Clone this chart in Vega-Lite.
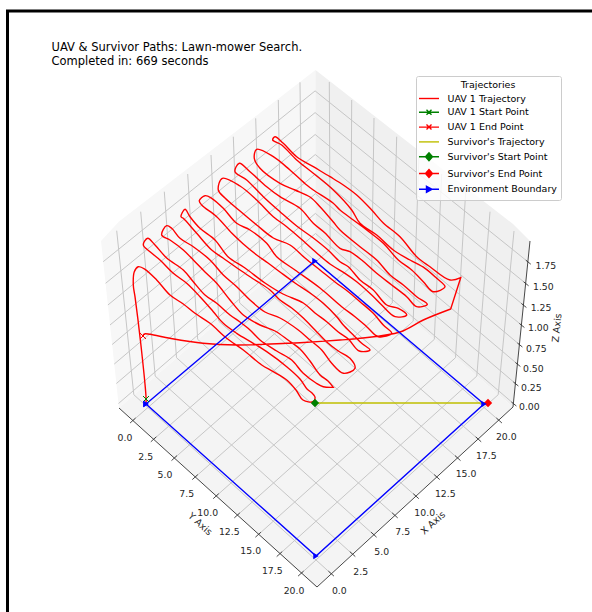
{"$schema":"https://vega.github.io/schema/vega-lite/v6.json","width":592,"height":612,"padding":0,"autosize":{"type":"none"},"background":"white","config":{"view":{"stroke":null},"text":{"font":"DejaVu Sans"}},
"datasets":{
"panes":[{"pane":"left","px":101,"py":241,"py2":241},{"pane":"left","px":119,"py":221.6,"py2":408},{"pane":"left","px":315.5,"py":70,"py2":237},
{"pane":"right","px":315.5,"py":70,"py2":237},{"pane":"right","px":513,"py":224,"py2":407},{"pane":"right","px":530,"py":241,"py2":241},
{"pane":"floor","px":119,"py":408,"py2":408},{"pane":"floor","px":316,"py":237,"py2":587},{"pane":"floor","px":513,"py":407,"py2":407}],
"grid":[
{"g":"fx0","i":0,"px":330.9,"py":573.5},{"g":"fx0","i":1,"px":133.8,"py":394.7},{"g":"fx1","i":0,"px":352.3,"py":554},{"g":"fx1","i":1,"px":155.2,"py":376.1},{"g":"fx2","i":0,"px":373.6,"py":534.6},{"g":"fx2","i":1,"px":176.5,"py":357.7},{"g":"fx3","i":0,"px":394.7,"py":515.3},{"g":"fx3","i":1,"px":197.7,"py":339.4},{"g":"fx4","i":0,"px":415.8,"py":496.1},{"g":"fx4","i":1,"px":218.8,"py":321.2},{"g":"fx5","i":0,"px":436.7,"py":477},{"g":"fx5","i":1,"px":239.7,"py":303},{"g":"fx6","i":0,"px":457.5,"py":458},{"g":"fx6","i":1,"px":260.5,"py":285},{"g":"fx7","i":0,"px":478.2,"py":439.2},{"g":"fx7","i":1,"px":281.2,"py":267.1},{"g":"fx8","i":0,"px":498.9,"py":420.4},{"g":"fx8","i":1,"px":301.8,"py":249.2},
{"g":"fy0","i":0,"px":133.1,"py":420.4},{"g":"fy0","i":1,"px":330.2,"py":249.2},{"g":"fy1","i":0,"px":153.8,"py":439.2},{"g":"fy1","i":1,"px":350.8,"py":267.1},{"g":"fy2","i":0,"px":174.5,"py":458},{"g":"fy2","i":1,"px":371.5,"py":285},{"g":"fy3","i":0,"px":195.3,"py":477},{"g":"fy3","i":1,"px":392.3,"py":303},{"g":"fy4","i":0,"px":216.2,"py":496.1},{"g":"fy4","i":1,"px":413.2,"py":321.2},{"g":"fy5","i":0,"px":237.3,"py":515.3},{"g":"fy5","i":1,"px":434.3,"py":339.4},{"g":"fy6","i":0,"px":258.4,"py":534.6},{"g":"fy6","i":1,"px":455.5,"py":357.7},{"g":"fy7","i":0,"px":279.7,"py":554},{"g":"fy7","i":1,"px":476.8,"py":376.1},{"g":"fy8","i":0,"px":301.1,"py":573.5},{"g":"fy8","i":1,"px":498.2,"py":394.7},
{"g":"lv0","i":0,"px":133.8,"py":394.7},{"g":"lv0","i":1,"px":116.7,"py":230.7},{"g":"lv1","i":0,"px":155.2,"py":376.1},{"g":"lv1","i":1,"px":140.7,"py":211.7},{"g":"lv2","i":0,"px":176.5,"py":357.7},{"g":"lv2","i":1,"px":164.3,"py":191.7},{"g":"lv3","i":0,"px":197.7,"py":339.4},{"g":"lv3","i":1,"px":187.7,"py":174},{"g":"lv4","i":0,"px":218.8,"py":321.2},{"g":"lv4","i":1,"px":211,"py":155},{"g":"lv5","i":0,"px":239.7,"py":303},{"g":"lv5","i":1,"px":233.3,"py":136.7},{"g":"lv6","i":0,"px":260.5,"py":285},{"g":"lv6","i":1,"px":255.7,"py":118.3},{"g":"lv7","i":0,"px":281.2,"py":267.1},{"g":"lv7","i":1,"px":278.3,"py":100},{"g":"lv8","i":0,"px":301.8,"py":249.2},{"g":"lv8","i":1,"px":300,"py":82.3},
{"g":"rv0","i":0,"px":330.2,"py":249.2},{"g":"rv0","i":1,"px":329.3,"py":82},{"g":"rv1","i":0,"px":350.8,"py":267.1},{"g":"rv1","i":1,"px":351.7,"py":100},{"g":"rv2","i":0,"px":371.5,"py":285},{"g":"rv2","i":1,"px":374,"py":118},{"g":"rv3","i":0,"px":392.3,"py":303},{"g":"rv3","i":1,"px":396.7,"py":136.7},{"g":"rv4","i":0,"px":413.2,"py":321.2},{"g":"rv4","i":1,"px":419,"py":155},{"g":"rv5","i":0,"px":434.3,"py":339.4},{"g":"rv5","i":1,"px":441.7,"py":174},{"g":"rv6","i":0,"px":455.5,"py":357.7},{"g":"rv6","i":1,"px":465.7,"py":192},{"g":"rv7","i":0,"px":476.8,"py":376.1},{"g":"rv7","i":1,"px":490,"py":211.7},{"g":"rv8","i":0,"px":498.2,"py":394.7},{"g":"rv8","i":1,"px":514,"py":231},
{"g":"z0","i":0,"px":118.5,"py":403.5},{"g":"z0","i":1,"px":315.5,"py":233.5},{"g":"z0","i":2,"px":513.4,"py":403.5},{"g":"z1","i":0,"px":116.4,"py":383.5},{"g":"z1","i":1,"px":315.4,"py":213.4},{"g":"z1","i":2,"px":515.4,"py":383.5},{"g":"z2","i":0,"px":114.3,"py":364},{"g":"z2","i":1,"px":315.4,"py":193.7},{"g":"z2","i":2,"px":517.4,"py":364},{"g":"z3","i":0,"px":112.2,"py":344.5},{"g":"z3","i":1,"px":315.3,"py":174},{"g":"z3","i":2,"px":519.4,"py":344.5},{"g":"z4","i":0,"px":110,"py":325},{"g":"z4","i":1,"px":315.3,"py":154.5},{"g":"z4","i":2,"px":521.4,"py":325},{"g":"z5","i":0,"px":107.9,"py":305},{"g":"z5","i":1,"px":315.2,"py":134.5},{"g":"z5","i":2,"px":523.4,"py":305},{"g":"z6","i":0,"px":105.6,"py":283.3},{"g":"z6","i":1,"px":315.1,"py":112.6},{"g":"z6","i":2,"px":525.6,"py":283.3},{"g":"z7","i":0,"px":103.2,"py":261.7},{"g":"z7","i":1,"px":315.1,"py":90.9},{"g":"z7","i":2,"px":527.8,"py":261.7}],
"axes":[
{"g":"yaxis","i":0,"px":119,"py":408},{"g":"yaxis","i":1,"px":317,"py":587},{"g":"xaxis","i":0,"px":317,"py":587},{"g":"xaxis","i":1,"px":513,"py":407},{"g":"zaxis","i":0,"px":513,"py":407},{"g":"zaxis","i":1,"px":530,"py":241},
{"g":"ty0","i":0,"px":135.6,"py":418},{"g":"ty0","i":1,"px":130.1,"py":423},{"g":"ty1","i":0,"px":156.3,"py":436.8},{"g":"ty1","i":1,"px":150.8,"py":441.8},{"g":"ty2","i":0,"px":177,"py":455.6},{"g":"ty2","i":1,"px":171.5,"py":460.6},{"g":"ty3","i":0,"px":197.8,"py":474.6},{"g":"ty3","i":1,"px":192.3,"py":479.6},{"g":"ty4","i":0,"px":218.7,"py":493.7},{"g":"ty4","i":1,"px":213.2,"py":498.7},{"g":"ty5","i":0,"px":239.8,"py":512.9},{"g":"ty5","i":1,"px":234.3,"py":517.9},{"g":"ty6","i":0,"px":260.9,"py":532.2},{"g":"ty6","i":1,"px":255.4,"py":537.2},{"g":"ty7","i":0,"px":282.2,"py":551.6},{"g":"ty7","i":1,"px":276.7,"py":556.6},{"g":"ty8","i":0,"px":303.6,"py":571.1},{"g":"ty8","i":1,"px":298.1,"py":576.1},
{"g":"tx0","i":0,"px":328.4,"py":571.1},{"g":"tx0","i":1,"px":333.9,"py":576.1},{"g":"tx1","i":0,"px":349.8,"py":551.6},{"g":"tx1","i":1,"px":355.3,"py":556.6},{"g":"tx2","i":0,"px":371.1,"py":532.2},{"g":"tx2","i":1,"px":376.6,"py":537.2},{"g":"tx3","i":0,"px":392.2,"py":512.9},{"g":"tx3","i":1,"px":397.7,"py":517.9},{"g":"tx4","i":0,"px":413.3,"py":493.7},{"g":"tx4","i":1,"px":418.8,"py":498.7},{"g":"tx5","i":0,"px":434.2,"py":474.6},{"g":"tx5","i":1,"px":439.7,"py":479.6},{"g":"tx6","i":0,"px":455,"py":455.6},{"g":"tx6","i":1,"px":460.5,"py":460.6},{"g":"tx7","i":0,"px":475.7,"py":436.8},{"g":"tx7","i":1,"px":481.2,"py":441.8},{"g":"tx8","i":0,"px":496.4,"py":418},{"g":"tx8","i":1,"px":501.9,"py":423},
{"g":"tz0","i":0,"px":511.4,"py":402},{"g":"tz0","i":1,"px":516.4,"py":406},{"g":"tz1","i":0,"px":513.4,"py":382},{"g":"tz1","i":1,"px":518.4,"py":386},{"g":"tz2","i":0,"px":515.4,"py":362.5},{"g":"tz2","i":1,"px":520.4,"py":366.5},{"g":"tz3","i":0,"px":517.4,"py":343},{"g":"tz3","i":1,"px":522.4,"py":347},{"g":"tz4","i":0,"px":519.4,"py":323.5},{"g":"tz4","i":1,"px":524.4,"py":327.5},{"g":"tz5","i":0,"px":521.4,"py":303.5},{"g":"tz5","i":1,"px":526.4,"py":307.5},{"g":"tz6","i":0,"px":523.6,"py":281.8},{"g":"tz6","i":1,"px":528.6,"py":285.8},{"g":"tz7","i":0,"px":525.8,"py":260.2},{"g":"tz7","i":1,"px":530.8,"py":264.2}],
"ticklabels":[
{"t":"0.0","px":125,"py":438.3},{"t":"2.5","px":145.7,"py":456.7},{"t":"5.0","px":165,"py":475.3},{"t":"7.5","px":186.7,"py":494},{"t":"10.0","px":207.7,"py":513.3},{"t":"12.5","px":229.3,"py":532},{"t":"15.0","px":250.7,"py":551.3},{"t":"17.5","px":272.3,"py":570.7},{"t":"20.0","px":294,"py":591},
{"t":"0.0","px":339.3,"py":590.7},{"t":"2.5","px":360.7,"py":571.7},{"t":"5.0","px":381.7,"py":551.7},{"t":"7.5","px":402.7,"py":532},{"t":"10.0","px":424.7,"py":512.7},{"t":"12.5","px":445.3,"py":494},{"t":"15.0","px":466,"py":474.3},{"t":"17.5","px":486.3,"py":455.7},{"t":"20.0","px":506.3,"py":437.3}],
"zlabels":[{"t":"0.00","px":519,"py":406.7},{"t":"0.25","px":521,"py":387.5},{"t":"0.50","px":523,"py":368.5},{"t":"0.75","px":526,"py":349},{"t":"1.00","px":528,"py":328},{"t":"1.25","px":530.7,"py":308},{"t":"1.50","px":533,"py":287},{"t":"1.75","px":535.5,"py":266}],
"titles":[{"t":"UAV & Survivor Paths: Lawn-mower Search.","px":51.5,"py":51},{"t":"Completed in: 669 seconds","px":51.5,"py":65}],
"frame":[{"i":0,"px":7.5,"py":612},{"i":1,"px":7.5,"py":11},{"i":2,"px":592,"py":11}],
"boundary":[{"i":0,"px":146,"py":404},{"i":1,"px":316,"py":556},{"i":2,"px":484,"py":404},{"i":3,"px":315,"py":261},{"i":4,"px":146,"py":404}],
"survivor":[{"i":0,"px":315,"py":403},{"i":1,"px":488,"py":403}],
"legendrows":[{"series":"UAV 1 Trajectory","px":300,"py":300},{"series":"UAV 1 Start Point","px":300,"py":300},{"series":"UAV 1 End Point","px":300,"py":300},{"series":"Survivor's Trajectory","px":300,"py":300},{"series":"Survivor's Start Point","px":300,"py":300},{"series":"Survivor's End Point","px":300,"py":300},{"series":"Environment Boundary","px":300,"py":300}],
"uav":[
{"i":1,"px":146,"py":404},{"i":2,"px":146,"py":396.7},{"i":3,"px":140.7,"py":343},{"i":4,"px":135,"py":296.7},{"i":5,"px":133.3,"py":285},{"i":6,"px":134.3,"py":271.7},{"i":7,"px":138.3,"py":266.7},{"i":8,"px":145,"py":269.3},{"i":9,"px":156.7,"py":280},{"i":10,"px":170,"py":295},{"i":11,"px":183.3,"py":304},{"i":12,"px":195,"py":313.3},{"i":13,"px":210,"py":323.3},{"i":14,"px":226.7,"py":338.3},{"i":15,"px":243.3,"py":350},{"i":16,"px":261.7,"py":365},{"i":17,"px":273.3,"py":371.7},{"i":18,"px":286.7,"py":380},{"i":19,"px":296,"py":390},{"i":20,"px":303,"py":400},{"i":21,"px":313,"py":401.7},{"i":22,"px":315,"py":397},
{"i":23,"px":312,"py":393},{"i":24,"px":307,"py":389},{"i":25,"px":300,"py":379},{"i":26,"px":286.7,"py":366.7},{"i":27,"px":266.7,"py":351.7},{"i":28,"px":253.3,"py":343.3},{"i":29,"px":236.7,"py":333.3},{"i":30,"px":223.3,"py":323.3},{"i":31,"px":213.3,"py":311.7},{"i":32,"px":200,"py":296.7},{"i":33,"px":186.7,"py":283.3},{"i":34,"px":173.3,"py":273.3},{"i":35,"px":160,"py":260},{"i":36,"px":150,"py":251.7},{"i":37,"px":143.3,"py":245},{"i":38,"px":147.7,"py":238.3},
{"i":39,"px":155,"py":245},{"i":40,"px":166.7,"py":258},{"i":41,"px":183.3,"py":270},{"i":42,"px":193.3,"py":281.7},{"i":43,"px":205,"py":295},{"i":44,"px":216.7,"py":303.3},{"i":45,"px":230,"py":315},{"i":46,"px":240,"py":322},{"i":47,"px":250,"py":330},{"i":48,"px":260,"py":340},{"i":49,"px":276.7,"py":351},{"i":50,"px":291.7,"py":360},{"i":51,"px":303,"py":373},{"i":52,"px":316,"py":383},{"i":53,"px":323.3,"py":386.7},{"i":54,"px":333.3,"py":387.3},{"i":54.1,"px":333.3,"py":387.3},
{"i":55,"px":328,"py":381},{"i":56,"px":320,"py":375},{"i":57,"px":310,"py":361},{"i":58,"px":300,"py":349},{"i":59,"px":288,"py":340},{"i":60,"px":275,"py":331},{"i":61,"px":260,"py":325},{"i":62,"px":243.3,"py":315},{"i":63,"px":230,"py":300},{"i":64,"px":216.7,"py":283.3},{"i":65,"px":205,"py":272},{"i":66,"px":193.3,"py":260},{"i":67,"px":183.3,"py":250},{"i":68,"px":170,"py":240},{"i":69,"px":161.7,"py":235},{"i":70,"px":166.7,"py":225.7},
{"i":71,"px":171.7,"py":228.3},{"i":72,"px":180,"py":238.3},{"i":73,"px":193.3,"py":246.7},{"i":74,"px":210,"py":260},{"i":75,"px":223.3,"py":275},{"i":76,"px":236.7,"py":286.7},{"i":77,"px":250,"py":300},{"i":78,"px":265,"py":312},{"i":79,"px":280,"py":318},{"i":80,"px":298.3,"py":330},{"i":81,"px":310,"py":340},{"i":82,"px":321.7,"py":350},{"i":83,"px":331.7,"py":363.3},{"i":84,"px":343.3,"py":373.3},{"i":85,"px":355,"py":368.3},
{"i":86,"px":350,"py":358.3},{"i":87,"px":338.3,"py":351},{"i":88,"px":326.7,"py":342},{"i":89,"px":315,"py":330},{"i":90,"px":303.3,"py":318},{"i":91,"px":291.7,"py":308},{"i":92,"px":280,"py":300},{"i":93,"px":270,"py":290},{"i":94,"px":255,"py":280},{"i":95,"px":240,"py":270},{"i":96,"px":223,"py":258},{"i":97,"px":211.7,"py":250},{"i":98,"px":196.7,"py":233.3},{"i":99,"px":183.3,"py":218.3},{"i":100,"px":181,"py":216.7},{"i":101,"px":185,"py":209.3},
{"i":102,"px":190,"py":216.7},{"i":103,"px":200,"py":228.3},{"i":104,"px":215,"py":240},{"i":105,"px":228,"py":256.7},{"i":106,"px":245,"py":268},{"i":107,"px":265,"py":283},{"i":108,"px":283,"py":294},{"i":109,"px":303.3,"py":303},{"i":110,"px":315,"py":313},{"i":111,"px":326.7,"py":321.7},{"i":112,"px":338.3,"py":332},{"i":113,"px":348.3,"py":339},{"i":114,"px":359.3,"py":351},{"i":115,"px":370,"py":350},
{"i":116,"px":361.7,"py":343.3},{"i":117,"px":353.3,"py":335},{"i":118,"px":343.3,"py":325},{"i":119,"px":336.7,"py":316.7},{"i":120,"px":323.3,"py":303.3},{"i":121,"px":310,"py":293},{"i":122,"px":295,"py":283},{"i":123,"px":280,"py":272},{"i":124,"px":268,"py":263},{"i":125,"px":256.7,"py":255},{"i":126,"px":243.3,"py":244},{"i":127,"px":231.7,"py":233},{"i":128,"px":216.7,"py":216.7},{"i":129,"px":201.7,"py":205},{"i":130,"px":199.3,"py":200.7},{"i":131,"px":205,"py":195.7},
{"i":132,"px":211.7,"py":198.3},{"i":133,"px":223.3,"py":208.3},{"i":134,"px":236.7,"py":223.3},{"i":135,"px":250,"py":230},{"i":136,"px":266.7,"py":243.3},{"i":137,"px":276.7,"py":256.7},{"i":138,"px":295,"py":270},{"i":139,"px":320,"py":288},{"i":140,"px":341.7,"py":306.7},{"i":141,"px":355,"py":316.7},{"i":142,"px":366.7,"py":326.7},{"i":143,"px":378.3,"py":336.7},{"i":144,"px":391.7,"py":333.3},
{"i":145,"px":383.3,"py":325},{"i":146,"px":373.3,"py":313.3},{"i":147,"px":360,"py":301.7},{"i":148,"px":348.3,"py":291.7},{"i":149,"px":335,"py":282},{"i":150,"px":320,"py":270},{"i":151,"px":305,"py":258},{"i":152,"px":290,"py":245},{"i":153,"px":273.3,"py":238},{"i":154,"px":256.7,"py":225},{"i":155,"px":240,"py":211},{"i":156,"px":225,"py":198},{"i":157,"px":218.3,"py":190},{"i":158,"px":222.3,"py":178.3},
{"i":159,"px":240,"py":186},{"i":160,"px":256.7,"py":200},{"i":161,"px":273.3,"py":216.7},{"i":162,"px":286.7,"py":226.7},{"i":163,"px":300,"py":238},{"i":164,"px":316.7,"py":253},{"i":165,"px":330,"py":264},{"i":166,"px":345,"py":273.3},{"i":167,"px":356.7,"py":281.7},{"i":168,"px":371.7,"py":295},{"i":169,"px":381.7,"py":305},{"i":170,"px":395,"py":316.7},{"i":171,"px":406.7,"py":315},
{"i":172,"px":398.3,"py":308.3},{"i":173,"px":386.7,"py":305},{"i":174,"px":373.3,"py":290},{"i":175,"px":360,"py":280},{"i":176,"px":348.3,"py":266.7},{"i":177,"px":340,"py":261.7},{"i":178,"px":328,"py":250},{"i":179,"px":313.3,"py":238},{"i":180,"px":296.7,"py":226},{"i":181,"px":280,"py":211.7},{"i":182,"px":263.3,"py":196.7},{"i":183,"px":246.7,"py":180},{"i":184,"px":235,"py":171.7},{"i":185,"px":239.3,"py":163.3},
{"i":186,"px":250,"py":171.7},{"i":187,"px":266.7,"py":186.7},{"i":188,"px":280,"py":196.7},{"i":189,"px":300,"py":208.3},{"i":190,"px":313.3,"py":223.3},{"i":191,"px":325,"py":233},{"i":192,"px":340,"py":248.3},{"i":193,"px":350,"py":251.7},{"i":194,"px":361.7,"py":260},{"i":195,"px":376.7,"py":273.3},{"i":196,"px":391.7,"py":285},{"i":197,"px":406.7,"py":296.7},{"i":198,"px":416.7,"py":306.7},{"i":199,"px":427.3,"py":304.3},
{"i":200,"px":416.7,"py":296.7},{"i":201,"px":403.3,"py":285},{"i":202,"px":390,"py":275},{"i":203,"px":376.7,"py":260},{"i":204,"px":360,"py":246.7},{"i":205,"px":340,"py":230},{"i":206,"px":333.3,"py":222},{"i":207,"px":320,"py":206.7},{"i":208,"px":310,"py":197},{"i":209,"px":295,"py":190},{"i":210,"px":280,"py":183.3},{"i":211,"px":260,"py":168.3},{"i":212,"px":254.3,"py":158.3},{"i":213,"px":256.7,"py":149.3},
{"i":214,"px":273.3,"py":156.7},{"i":215,"px":290,"py":170},{"i":216,"px":306.7,"py":185},{"i":217,"px":313.3,"py":190},{"i":218,"px":333,"py":203},{"i":219,"px":340,"py":210},{"i":220,"px":353.3,"py":220},{"i":221,"px":366.7,"py":230},{"i":222,"px":383.3,"py":243.3},{"i":223,"px":398.3,"py":260},{"i":224,"px":411.7,"py":270},{"i":225,"px":423.3,"py":281.7},{"i":226,"px":433.3,"py":291.7},{"i":227,"px":445,"py":286.7},
{"i":228,"px":436.7,"py":278.3},{"i":229,"px":425,"py":268.3},{"i":230,"px":410,"py":260},{"i":231,"px":393.3,"py":250},{"i":232,"px":376.7,"py":235},{"i":233,"px":360,"py":223.3},{"i":234,"px":351.7,"py":210},{"i":235,"px":333.3,"py":190},{"i":236,"px":313.3,"py":173.3},{"i":237,"px":296.7,"py":160},{"i":238,"px":281.7,"py":145},{"i":239,"px":272.7,"py":140},{"i":240,"px":275,"py":136.7},
{"i":241,"px":283.3,"py":143.3},{"i":242,"px":296.7,"py":156.7},{"i":243,"px":313.3,"py":166.7},{"i":244,"px":330,"py":176.7},{"i":245,"px":343.3,"py":185},{"i":246,"px":356.7,"py":195},{"i":247,"px":371.7,"py":210},{"i":248,"px":383.3,"py":223},{"i":249,"px":400,"py":236.7},{"i":250,"px":416.7,"py":256.7},{"i":251,"px":430,"py":266.7},{"i":252,"px":450,"py":280},{"i":253,"px":460.7,"py":277.7},{"i":253.1,"px":460.7,"py":277.7},{"i":254,"px":450.7,"py":309},{"i":254.1,"px":450.7,"py":309},{"i":255,"px":423.3,"py":320},{"i":256,"px":400,"py":332},{"i":257,"px":360,"py":338.3},{"i":258,"px":340,"py":340},{"i":259,"px":300,"py":342.7},{"i":260,"px":286.7,"py":343.3},{"i":261,"px":236.7,"py":345},{"i":262,"px":203,"py":343.3},{"i":263,"px":170,"py":338.3},{"i":264,"px":150,"py":334.3},{"i":265,"px":144,"py":334},{"i":266,"px":143,"py":336}]
},
"encoding":{"x":{"field":"px","type":"quantitative","axis":null,"scale":{"domain":[0,592],"range":[0,592],"nice":false,"zero":false}},"y":{"field":"py","type":"quantitative","axis":null,"scale":{"domain":[612,0],"range":[612,0],"nice":false,"zero":false,"reverse":false}}},
"layer":[
{"data":{"name":"panes"},"transform":[{"filter":"datum.pane==='left'"}],"mark":{"type":"area","fill":"#f7f7f7"},"encoding":{"y2":{"field":"py2"}}},
{"data":{"name":"panes"},"transform":[{"filter":"datum.pane==='right'"}],"mark":{"type":"area","fill":"#f0f0f0"},"encoding":{"y2":{"field":"py2"}}},
{"data":{"name":"panes"},"transform":[{"filter":"datum.pane==='floor'"}],"mark":{"type":"area","fill":"#f4f4f4"},"encoding":{"y2":{"field":"py2"}}},
{"data":{"name":"grid"},"mark":{"type":"line","stroke":"#c6c6c6","strokeWidth":1},"encoding":{"detail":{"field":"g"},"order":{"field":"i","type":"quantitative"}}},
{"data":{"name":"axes"},"mark":{"type":"line","stroke":"#333333","strokeWidth":0.9},"encoding":{"detail":{"field":"g"},"order":{"field":"i","type":"quantitative"}}},
{"data":{"name":"uav"},"mark":{"type":"line","stroke":"#ff0000","strokeWidth":1.4,"interpolate":"catmull-rom"},"encoding":{"order":{"field":"i","type":"quantitative"}}},
{"data":{"name":"survivor"},"mark":{"type":"line","stroke":"#bfbf00","strokeWidth":1.4},"encoding":{"order":{"field":"i","type":"quantitative"}}},
{"data":{"name":"boundary"},"mark":{"type":"line","stroke":"#0000ff","strokeWidth":1.4},"encoding":{"order":{"field":"i","type":"quantitative"}}},
{"data":{"values":[{"px":146,"py":399}]},"mark":{"type":"point","shape":"M-1,-1L1,1M-1,1L1,-1","stroke":"#008000","size":36,"strokeWidth":1,"opacity":1}},
{"data":{"values":[{"px":143,"py":336}]},"mark":{"type":"point","shape":"M-1,-1L1,1M-1,1L1,-1","stroke":"#ff0000","size":36,"strokeWidth":1,"opacity":1}},
{"data":{"values":[{"px":315,"py":403}]},"mark":{"type":"point","shape":"diamond","filled":true,"fill":"#008000","size":70,"opacity":1}},
{"data":{"values":[{"px":488,"py":403}]},"mark":{"type":"point","shape":"diamond","filled":true,"fill":"#ff0000","size":70,"opacity":1}},
{"data":{"name":"boundary"},"mark":{"type":"point","shape":"triangle-right","filled":true,"fill":"#0000ff","size":40,"opacity":1}},
{"data":{"name":"ticklabels"},"mark":{"type":"text","font":"DejaVu Sans","fontSize":9.3,"fill":"#262626","align":"center","baseline":"middle"},"encoding":{"text":{"field":"t"}}},
{"data":{"name":"zlabels"},"mark":{"type":"text","font":"DejaVu Sans","fontSize":9.3,"fill":"#262626","align":"left","baseline":"middle"},"encoding":{"text":{"field":"t"}}},
{"data":{"name":"titles"},"mark":{"type":"text","font":"DejaVu Sans","fontSize":11.5,"fill":"#000000","align":"left","baseline":"alphabetic"},"encoding":{"text":{"field":"t"}}},
{"data":{"values":[{"t":"Y Axis","px":200,"py":524}]},"mark":{"type":"text","font":"DejaVu Sans","fontSize":9.5,"fill":"#262626","angle":42,"align":"center","baseline":"middle"},"encoding":{"text":{"field":"t"}}},
{"data":{"values":[{"t":"X Axis","px":433,"py":523}]},"mark":{"type":"text","font":"DejaVu Sans","fontSize":9.5,"fill":"#262626","angle":318,"align":"center","baseline":"middle"},"encoding":{"text":{"field":"t"}}},
{"data":{"values":[{"t":"Z Axis","px":557,"py":328}]},"mark":{"type":"text","font":"DejaVu Sans","fontSize":9.5,"fill":"#262626","angle":276,"align":"center","baseline":"middle"},"encoding":{"text":{"field":"t"}}},
{"data":{"name":"frame"},"mark":{"type":"line","stroke":"#000000","strokeWidth":3},"encoding":{"order":{"field":"i","type":"quantitative"}}},
{"data":{"name":"legendrows"},"mark":{"type":"point","filled":true,"opacity":0,"strokeWidth":1.4},"encoding":{
"fill":{"field":"series","type":"nominal","scale":{"domain":["UAV 1 Trajectory","UAV 1 Start Point","UAV 1 End Point","Survivor's Trajectory","Survivor's Start Point","Survivor's End Point","Environment Boundary"],"range":["#ff0000","#008000","#ff0000","#bfbf00","#008000","#ff0000","#0000ff"]},"legend":{"title":"Trajectories","orient":"none","legendX":416,"legendY":76,"zindex":1,"fillColor":"rgba(255,255,255,0.8)","strokeColor":"#cccccc","cornerRadius":2,"padding":4,"titleAnchor":"middle","titleFont":"DejaVu Sans","titleFontSize":9.5,"titleFontWeight":"normal","titleColor":"#000000","labelFont":"DejaVu Sans","labelFontSize":9.5,"labelColor":"#000000","labelLimit":200,"labelOffset":12.5,"symbolOffset":3,"symbolSize":100,"symbolOpacity":1,"symbolStrokeWidth":1.4,"rowPadding":2.8,"titlePadding":3,"encode":{"symbols":{"update":{"fill":{"scale":"fill","field":"value"},"fillOpacity":{"value":1}}}}}},
"stroke":{"field":"series","type":"nominal","scale":{"domain":["UAV 1 Trajectory","UAV 1 Start Point","UAV 1 End Point","Survivor's Trajectory","Survivor's Start Point","Survivor's End Point","Environment Boundary"],"range":["#ff0000","#008000","#ff0000","#bfbf00","#008000","#ff0000","#0000ff"]},"legend":{"title":"Trajectories","orient":"none","legendX":416,"legendY":76}},
"shape":{"field":"series","type":"nominal","scale":{"domain":["UAV 1 Trajectory","UAV 1 Start Point","UAV 1 End Point","Survivor's Trajectory","Survivor's Start Point","Survivor's End Point","Environment Boundary"],"range":["M-2,0L2,0","M-2,0L2,0M-0.5,-0.5L0.5,0.5M-0.5,0.5L0.5,-0.5","M-2,0L2,0M-0.5,-0.5L0.5,0.5M-0.5,0.5L0.5,-0.5","M-2,0L2,0","M-2,0L2,0M-0.7,0L0,-0.8L0.7,0L0,0.8Z","M-2,0L2,0M-0.7,0L0,-0.8L0.7,0L0,0.8Z","M-2,0L2,0M-0.5,-0.6L0.6,0L-0.5,0.6Z"]},"legend":{"title":"Trajectories","orient":"none","legendX":416,"legendY":76}}
}}
]}
